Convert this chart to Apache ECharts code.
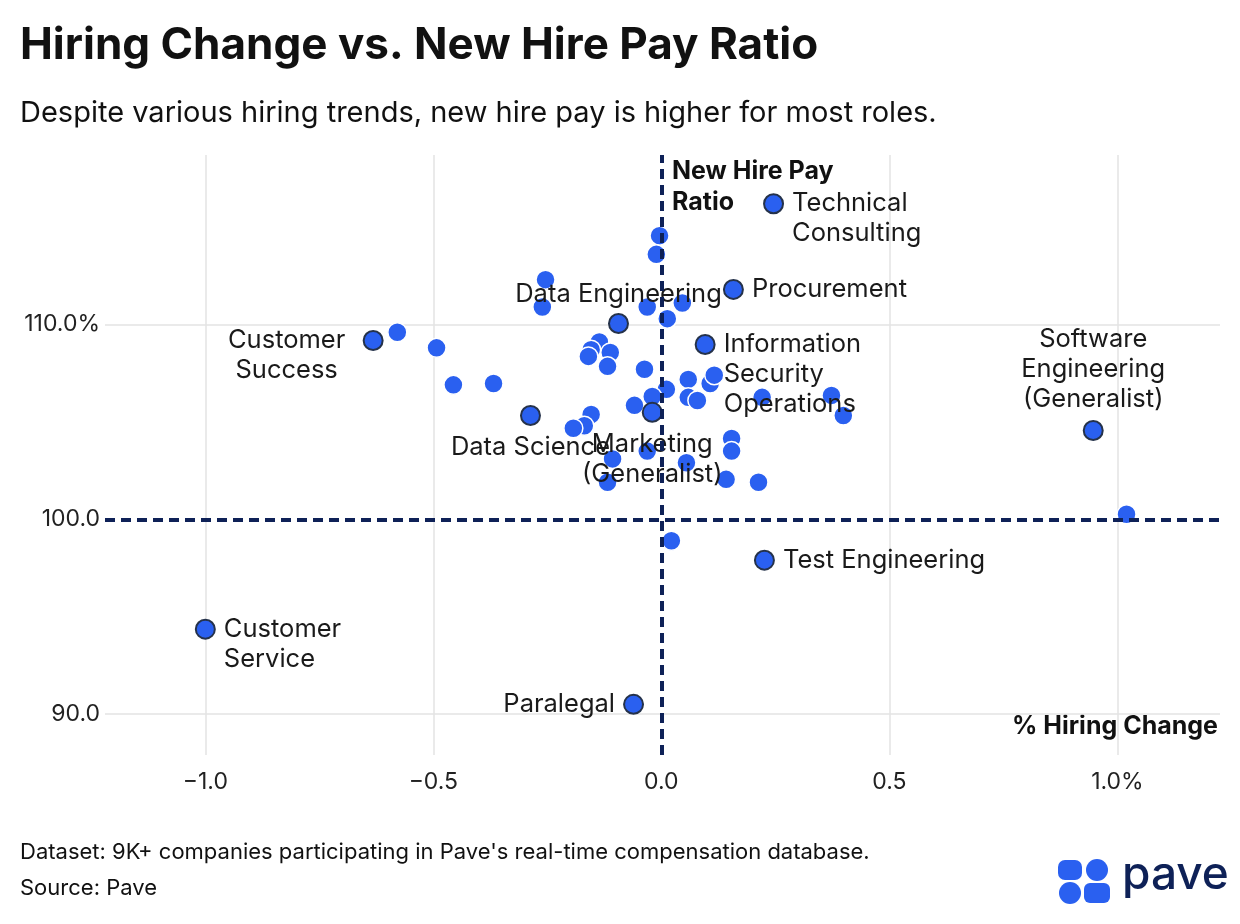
<!DOCTYPE html>
<html><head><meta charset="utf-8">
<script src="https://cdn.jsdelivr.net/npm/echarts@6/dist/echarts.min.js"></script>
<style>html,body{margin:0;padding:0;background:#fff}#c{width:1240px;height:924px}</style>
</head><body><div id="c"></div>
<script>
const xTicks = [-1.0, -0.5, 0.0, 0.5, 1.0];
const xTickLabels = ['−1.0', '−0.5', '0.0', '0.5', '1.0%'];
const yTicks = [90, 100, 110];
const yTickLabels = ['90.0', '100.0', '110.0%'];

const otherX = [-0.004,-0.011,-0.254,-0.261,-0.031,0.046,0.013,-0.579,-0.493,-0.136,-0.154,-0.112,-0.160,-0.118,-0.037,-0.456,-0.368,0.011,0.059,0.107,0.116,-0.020,0.059,0.079,-0.059,0.221,0.373,0.399,-0.154,-0.169,-0.193,0.154,0.154,-0.031,0.142,0.213,-0.118,0.055,1.02,0.022,-0.107];
const otherY = [114.56,113.6,112.3,110.9,110.9,111.1,110.3,109.6,108.8,109.1,108.7,108.56,108.36,107.85,107.7,106.9,106.97,106.67,107.18,106.97,107.4,106.3,106.26,106.1,105.85,106.26,106.36,105.33,105.38,104.8,104.67,104.15,103.5,103.5,102.05,101.9,101.9,102.9,100.26,98.9,103.1];

const roleNames = ['Technical\nConsulting','Procurement','Data Engineering','Information\nSecurity\nOperations','Customer\nSuccess','Software\nEngineering\n(Generalist)','Data Science','Marketing\n(Generalist)','Test Engineering','Customer\nService','Paralegal'];
const roleX = [0.246,0.158,-0.094,0.096,-0.632,0.947,-0.287,-0.020,0.226,-1.0,-0.061];
const roleY = [116.2,111.8,110.05,108.97,109.18,104.56,105.33,105.49,97.9,94.36,90.5];

const labelCfg = [
  {position:'right', offset:[0,15], align:'left'},
  {position:'right'},
  {position:'top', distance:4},
  {position:'right', offset:[0,30], align:'left'},
  {position:'left', offset:[-68,15], align:'center'},
  {position:'top', distance:6, align:'center'},
  {position:'bottom', distance:6},
  {position:'bottom', distance:6, align:'center'},
  {position:'right'},
  {position:'right', offset:[0,15], align:'left'},
  {position:'left'}
];

const navy = '#0e2157';
const blue = '#2a60f0';
const chart = echarts.init(document.getElementById('c'));
const gridLineData = [
  ...xTicks.filter(v=>v!==0).map(v=>({xAxis:v})),
  ...yTicks.filter(v=>v!==100).map(v=>({yAxis:v}))
];
chart.setOption({
  animation:false,
  textStyle:{fontFamily:'Inter, Roboto, sans-serif'},
  grid:{left:105, right:20, top:155, bottom:169},
  xAxis:{type:'value', min:-1.22, max:1.225,
    axisLine:{show:false}, axisTick:{show:false}, splitLine:{show:false},
    axisLabel:{customValues:xTicks, formatter:v=>xTickLabels[xTicks.indexOf(Math.round(v*10)/10)] ?? '', fontSize:23, color:'#222', margin:16}},
  yAxis:{type:'value', min:87.9, max:118.7,
    axisLine:{show:false}, axisTick:{show:false}, splitLine:{show:false},
    axisLabel:{customValues:yTicks, formatter:v=>yTickLabels[yTicks.indexOf(Math.round(v))] ?? '', fontSize:23, color:'#222', margin:5}},
  graphic:[
    {type:'text', left:20, top:24, style:{text:'Hiring Change vs. New Hire Pay Ratio', font:'bold 44px Inter, sans-serif', fill:'#111'}},
    {type:'text', left:20, top:99, style:{text:'Despite various hiring trends, new hire pay is higher for most roles.', font:'29px Inter, sans-serif', fill:'#111'}},
    {type:'text', left:672, top:156, style:{text:'New Hire Pay\nRatio', font:'bold 25px Inter, sans-serif', fill:'#111', lineHeight:31}},
    {type:'text', right:22, top:714, style:{text:'% Hiring Change', font:'bold 25px Inter, sans-serif', fill:'#111'}},
    {type:'text', left:20, top:841, style:{text:"Dataset: 9K+ companies participating in Pave's real-time compensation database.", font:'22px Inter, sans-serif', fill:'#111'}},
    {type:'text', left:20, top:877, style:{text:'Source: Pave', font:'22px Inter, sans-serif', fill:'#111'}},
    {type:'rect', shape:{x:1058,y:860,width:24,height:20,r:7}, style:{fill:blue}},
    {type:'circle', shape:{cx:1097,cy:870,r:11}, style:{fill:blue}},
    {type:'circle', shape:{cx:1070,cy:893,r:11}, style:{fill:blue}},
    {type:'rect', shape:{x:1084,y:883,width:26,height:20,r:6}, style:{fill:blue}},
    {type:'text', left:1122, top:852, style:{text:'pave', font:'500 46px Inter, sans-serif', fill:navy}}
  ],
  series:[
    {type:'scatter', symbolSize:19, z:2,
      itemStyle:{color:blue, borderColor:'#fff', borderWidth:1.5, opacity:1},
      data: otherX.map((x,i)=>[x, otherY[i]]),
      markLine:{silent:true, symbol:'none', label:{show:false}, lineStyle:{color:'#e3e3e3', type:'solid', width:1.5}, data:gridLineData, z:0}
    },
    {type:'scatter', symbolSize:19, z:3,
      itemStyle:{color:blue, borderColor:'#25324a', borderWidth:2, opacity:1},
      label:{show:true, formatter:p=>roleNames[p.dataIndex], fontSize:25.5, color:'#1a1a1a', lineHeight:30, distance:8},
      data: roleX.map((x,i)=>({value:[x, roleY[i]], label:labelCfg[i]})),
      markLine:{silent:true, symbol:'none', label:{show:false}, lineStyle:{color:navy, type:[10,6], width:4}, data:[{xAxis:0},{yAxis:100}]}
    }
  ]
});
</script></body></html>
